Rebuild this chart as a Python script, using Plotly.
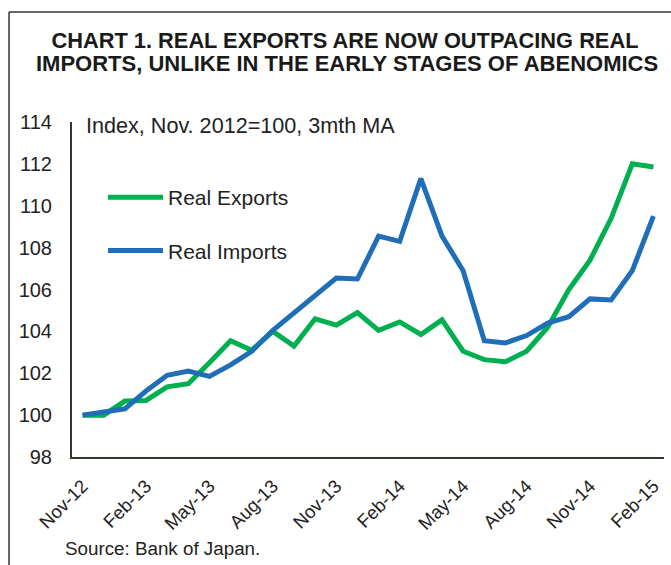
import plotly.graph_objects as go

months = ["Nov-12", "Dec-12", "Jan-13", "Feb-13", "Mar-13", "Apr-13", "May-13",
          "Jun-13", "Jul-13", "Aug-13", "Sep-13", "Oct-13", "Nov-13", "Dec-13",
          "Jan-14", "Feb-14", "Mar-14", "Apr-14", "May-14", "Jun-14", "Jul-14",
          "Aug-14", "Sep-14", "Oct-14", "Nov-14", "Dec-14", "Jan-15", "Feb-15"]

real_exports = [100.0, 100.0, 100.67, 100.7, 101.35, 101.5, 102.5, 103.55, 103.1,
                104.0, 103.3, 104.6, 104.3, 104.9, 104.05, 104.45, 103.85, 104.55,
                103.05, 102.65, 102.55, 103.05, 104.2, 106.0, 107.4, 109.4, 112.0,
                111.85]

real_imports = [100.0, 100.13, 100.3, 101.15, 101.9, 102.1, 101.85, 102.4, 103.05,
                104.05, 104.9, 105.7, 106.55, 106.5, 108.55, 108.3, 111.3, 108.55,
                106.9, 103.55, 103.45, 103.8, 104.4, 104.7, 105.55, 105.5, 106.9,
                109.5]

tick_labels = months[::3]
y_ticks = [98, 100, 102, 104, 106, 108, 110, 112, 114]

title_line1 = "CHART 1. REAL EXPORTS ARE NOW OUTPACING REAL"
title_line2 = "IMPORTS, UNLIKE IN THE EARLY STAGES OF ABENOMICS"

FONT = "Liberation Sans, Arial, sans-serif"
AXIS_COLOR = "#2f3a2b"

fig = go.Figure()
fig.add_trace(go.Scatter(x=months, y=real_exports, mode="lines", name="Real Exports",
                         line=dict(color="#00B04F", width=5), legendgroup="e"))
fig.add_trace(go.Scatter(x=months, y=real_imports, mode="lines", name="Real Imports",
                         line=dict(color="#1F6EB7", width=5), legendgroup="i"))

W, H = 671, 565
L, R, T, B = 72, 7, 122, 108
pw, ph = W - L - R, H - T - B

def px_x(x):
    return (x - L) / pw

def px_y(y):
    return (H - B - y) / ph

fig.update_layout(
    width=W, height=H,
    margin=dict(l=L, r=R, t=T, b=B, autoexpand=False),
    paper_bgcolor="white", plot_bgcolor="white",
    font=dict(family=FONT, color="#222222"),
    title=dict(
        text="<b>" + title_line1 + "</b>",
        x=345 / W, xanchor="center", xref="container",
        y=1 - 40 / H, yanchor="middle", yref="container",
        font=dict(size=21.8, family=FONT, color="#1a1a1a"),
    ),
    showlegend=True,
    legend=dict(
        x=px_x(103), y=px_y(177), xanchor="left", yanchor="top",
        font=dict(size=21, family=FONT, color="#222222"),
        tracegroupgap=23, bgcolor="rgba(0,0,0,0)", itemwidth=55,
    ),
    xaxis=dict(
        type="category", categoryorder="array", categoryarray=months,
        tickmode="array", tickvals=tick_labels, ticktext=tick_labels,
        tickangle=-45, tickfont=dict(size=18.5, family=FONT, color="#222222"),
        showline=True, linecolor=AXIS_COLOR, linewidth=2,
        showgrid=False, zeroline=False, automargin=False,
        ticks="outside", ticklen=9, tickcolor="rgba(0,0,0,0)",
        range=[-0.5, len(months) - 0.5],
    ),
    yaxis=dict(
        range=[98, 114], tickmode="array", tickvals=y_ticks,
        tickfont=dict(size=20, family=FONT, color="#222222"),
        showline=True, linecolor=AXIS_COLOR, linewidth=2,
        showgrid=False, zeroline=False, ticks="", ticklabelstandoff=14,
        automargin=False,
    ),
    annotations=[
        dict(text="<b>" + title_line2 + "</b>", xref="paper", yref="paper",
             x=px_x(347), y=px_y(64), xanchor="center", yanchor="middle",
             showarrow=False, font=dict(size=22, family=FONT, color="#1a1a1a")),
        dict(text="Index, Nov. 2012=100, 3mth MA", xref="paper", yref="paper",
             x=px_x(84), y=px_y(125), xanchor="left", yanchor="middle",
             showarrow=False, font=dict(size=21.6, family=FONT, color="#222222")),
        dict(text="Source: Bank of Japan.", xref="paper", yref="paper",
             x=px_x(63), y=px_y(548), xanchor="left", yanchor="middle",
             showarrow=False, font=dict(size=18.8, family=FONT, color="#222222")),
    ],
    shapes=[
        dict(type="line", xref="paper", yref="paper",
             x0=px_x(9), x1=px_x(9), y0=px_y(12), y1=px_y(H + 5),
             line=dict(color="#333333", width=1.5)),
        dict(type="line", xref="paper", yref="paper",
             x0=px_x(9), x1=px_x(W + 5), y0=px_y(12), y1=px_y(12),
             line=dict(color="#333333", width=1.5)),
    ],
)

fig.write_html("out.html", config={"displayModeBar": False},
               post_script="document.body.style.margin='0';")
